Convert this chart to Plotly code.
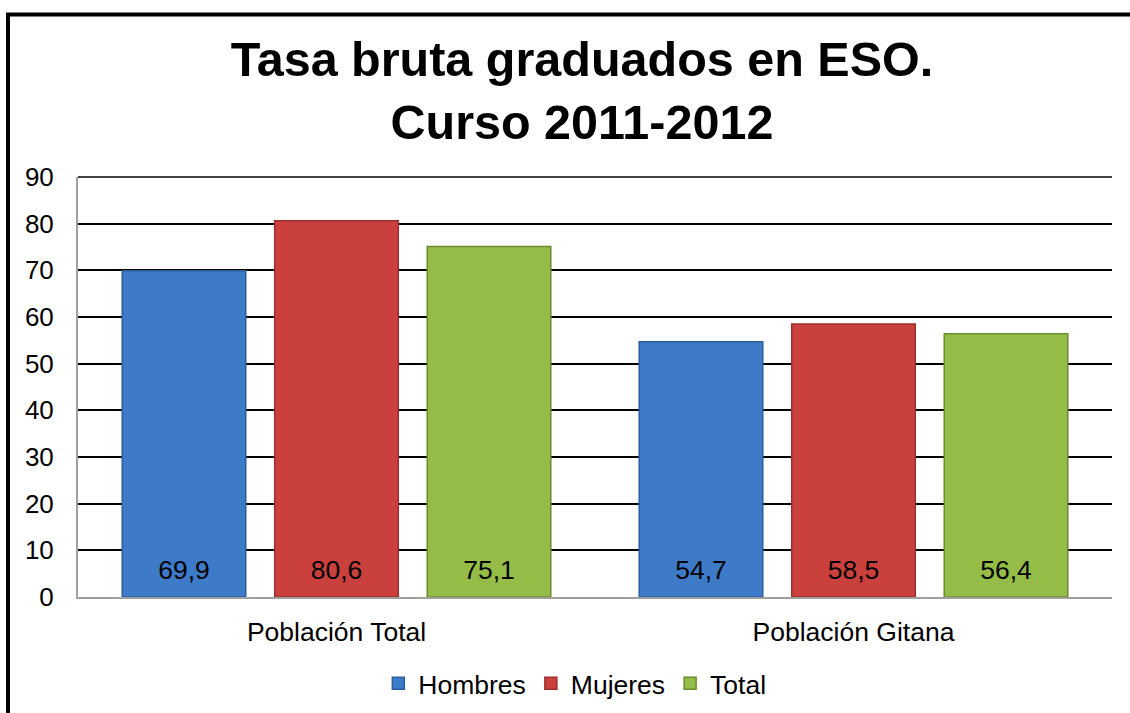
import plotly.graph_objects as go

categories = ["Población Total", "Población Gitana"]
series = ["Hombres", "Mujeres", "Total"]
hombres = [69.9, 54.7]
mujeres = [80.6, 58.5]
total = [75.1, 56.4]
y_ticks = [0, 10, 20, 30, 40, 50, 60, 70, 80, 90]

values = [hombres, mujeres, total]
colors = ["#3D7BC8", "#CA403D", "#95BC47"]
edges = ["#2D5E9C", "#9C2F2C", "#6E8A2C"]

W, H = 1130, 713
L, R, T, B = 78, 18, 177, 116
FONT = "Liberation Sans, Arial"
Y_MAX = 90

fig = go.Figure()
for name, vals, c, e in zip(series, values, colors, edges):
    fig.add_trace(go.Bar(
        x=categories, y=vals, name=name, offsetgroup=name,
        marker=dict(color=c, line=dict(color=e, width=1.5)),
    ))
# value labels near the bar base, grouped like the bars
for name, vals in zip(series, values):
    fig.add_trace(go.Scatter(
        x=categories, y=[Y_MAX * 0.058] * len(vals), offsetgroup=name,
        mode="text", text=[f"{v:.1f}".replace(".", ",") for v in vals],
        textposition="middle center",
        textfont=dict(family=FONT, size=26.5, color="black"),
        showlegend=False, hoverinfo="skip",
    ))

pw = W - L - R
ph = H - T - B
# outer frame (left and top edges visible)
fig.add_shape(type="line", xref="paper", yref="paper",
              x0=(8 - L) / pw, x1=(8 - L) / pw,
              y0=(H - 14.5 - B) / ph, y1=(-B - 5) / ph,
              line=dict(color="black", width=4))
fig.add_shape(type="line", xref="paper", yref="paper",
              x0=(6 - L) / pw, x1=(W + 5 - L) / pw,
              y0=(H - 14.5 - B) / ph, y1=(H - 14.5 - B) / ph,
              line=dict(color="black", width=4))
# top gridline at the axis maximum
fig.add_shape(type="line", xref="paper", yref="y domain",
              x0=0, x1=1, y0=1, y1=1,
              line=dict(color="black", width=1.5))

fig.update_layout(
    width=W, height=H,
    margin=dict(l=L, r=R, t=T, b=B, autoexpand=False),
    paper_bgcolor="white", plot_bgcolor="white",
    font=dict(family=FONT, size=26.5, color="black"),
    title=dict(
        text="<b>Tasa bruta graduados en ESO.<br>Curso 2011-2012</b>",
        x=0.515, xanchor="center", y=1 - 76 / H, yanchor="middle",
        font=dict(size=48.5, color="black"),
    ),
    barmode="group", bargap=0.115, bargroupgap=0.19,
    scattermode="group", scattergap=0.115,
    legend=dict(orientation="h", x=0.4805, xanchor="center",
                y=-0.206, yanchor="middle",
                font=dict(size=26.5), itemwidth=30, traceorder="normal"),
    showlegend=True,
)
fig.update_xaxes(showline=True, linecolor="#A0A0A0", linewidth=2,
                 ticks="", ticklabelstandoff=10,
                 tickfont=dict(size=26.5))
fig.update_yaxes(range=[0, Y_MAX], tickvals=y_ticks, showgrid=True,
                 gridcolor="black", gridwidth=1.5, zeroline=False,
                 showline=True, linecolor="#A0A0A0", linewidth=2,
                 ticks="", ticklabelstandoff=17, tickfont=dict(size=26))

fig.write_html("out.html", config={"displayModeBar": False},
               post_script="document.body.style.margin='0';")
